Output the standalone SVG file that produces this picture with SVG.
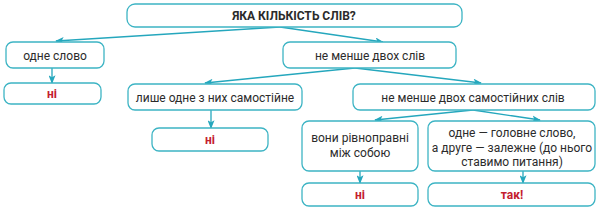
<svg xmlns="http://www.w3.org/2000/svg" width="599" height="212" viewBox="0 0 599 212">
<style>
.box{fill:#fff;stroke:#3db4c4;stroke-width:1.3}
.t{font-family:Roboto,"Liberation Sans",sans-serif;font-size:12px;fill:#2b2b2b;text-anchor:middle}
.b{font-weight:bold}
.r{fill:#c4202e;font-weight:bold}
.c{stroke:#25a7bd;stroke-width:1.3;fill:none;marker-end:url(#ah)}
</style>
<defs>
<marker id="ah" viewBox="0 0 10 8" refX="9" refY="4" markerWidth="9" markerHeight="7" markerUnits="userSpaceOnUse" orient="auto">
<path d="M0,0 L10,4 L0,8 L2.5,4 Z" fill="#25a7bd"/>
</marker>
</defs>
<rect width="599" height="212" fill="#fff"/>
<g id="connectors">
<line class="c" x1="280" y1="27" x2="56" y2="41"/>
<line class="c" x1="280" y1="27" x2="383" y2="42"/>
<line class="c" x1="52" y1="68" x2="52" y2="83"/>
<line class="c" x1="355" y1="68" x2="205" y2="83"/>
<line class="c" x1="355" y1="68" x2="481" y2="83"/>
<line class="c" x1="211" y1="110" x2="211" y2="128"/>
<line class="c" x1="473" y1="110" x2="375" y2="120"/>
<line class="c" x1="473" y1="110" x2="540" y2="120"/>
<line class="c" x1="360" y1="171" x2="360" y2="183"/>
<line class="c" x1="523" y1="171" x2="523" y2="183"/>
</g>
<g id="n-top"><rect class="box" x="127" y="4" width="335" height="23" rx="8"/><text class="t b" x="294" y="20">ЯКА КІЛЬКІСТЬ СЛІВ?</text></g>
<g id="n-one"><rect class="box" x="6" y="42" width="98" height="26" rx="7"/><text class="t" x="55" y="59.5">одне слово</text></g>
<g id="n-ni1"><rect class="box" x="4" y="83" width="97" height="21" rx="7"/><text class="t r" x="52" y="98">ні</text></g>
<g id="n-two"><rect class="box" x="283" y="42" width="173" height="26" rx="7"/><text class="t" x="370" y="59.5">не менше двох слів</text></g>
<g id="n-only"><rect class="box" x="128" y="84" width="174" height="26" rx="7"/><text class="t" x="215" y="101.5">лише одне з них самостійне</text></g>
<g id="n-twoind"><rect class="box" x="353" y="84" width="242" height="26" rx="7"/><text class="t" x="473" y="101.5">не менше двох самостійних слів</text></g>
<g id="n-ni2"><rect class="box" x="152" y="128" width="116" height="23" rx="7"/><text class="t r" x="210" y="144">ні</text></g>
<g id="n-equal"><rect class="box" x="302" y="121" width="116" height="50" rx="7"/><text class="t" x="360" y="142">вони рівноправні</text><text class="t" x="360" y="157">між собою</text></g>
<g id="n-main"><rect class="box" x="428" y="121" width="167" height="50" rx="7"/><text class="t" x="512" y="137">одне — головне слово,</text><text class="t" x="512" y="151.5">а друге — залежне (до нього</text><text class="t" x="512" y="165.5">ставимо питання)</text></g>
<g id="n-ni3"><rect class="box" x="302" y="183" width="116" height="23" rx="7"/><text class="t r" x="360" y="199">ні</text></g>
<g id="n-yes"><rect class="box" x="428" y="183" width="167" height="23" rx="7"/><text class="t r" x="512" y="199">так!</text></g>
</svg>
